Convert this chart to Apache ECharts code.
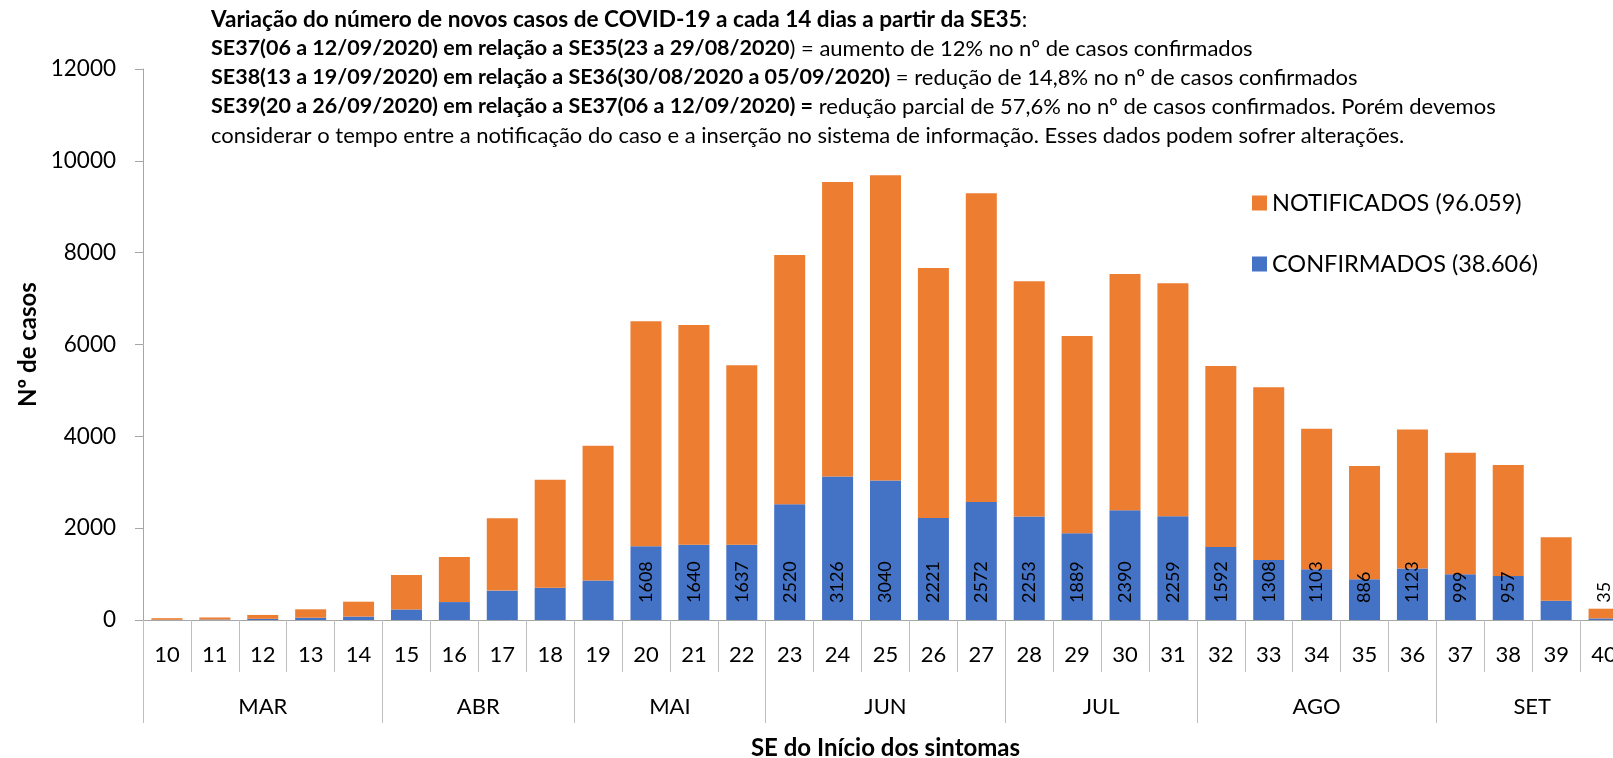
<!DOCTYPE html>
<html>
<head>
<meta charset="utf-8">
<script src="https://cdn.jsdelivr.net/npm/echarts@6/dist/echarts.min.js"></script>
<style>
html,body{margin:0;padding:0;background:#fff;overflow:hidden;}
#chart{width:1613px;height:758px;}
</style>
</head>
<body>
<div id="chart"></div>
<script>
// ---- data ----
const weeks = ['10','11','12','13','14','15','16','17','18','19','20','21','22','23','24','25','26','27','28','29','30','31','32','33','34','35','36','37','38','39','40'];
const months = ['MAR','ABR','MAI','JUN','JUL','AGO','SET'];
const monthWeekCounts = [5,4,4,5,4,5,4];
const confirmados = [5,10,25,50,75,230,390,640,700,860,1608,1640,1637,2520,3126,3040,2221,2572,2253,1889,2390,2259,1592,1308,1103,886,1123,999,957,420,35];
const notificados = [35,45,85,183,324,750,982,1575,2356,2935,4897,4784,3913,5429,6412,6644,5444,6720,5123,4296,5145,5073,3939,3762,3063,2468,3027,2644,2418,1381,211];
const labeledWeeks = ['20','21','22','23','24','25','26','27','28','29','30','31','32','33','34','35','36','37','38','40'];
const legendNames = ['NOTIFICADOS (96.059)','CONFIRMADOS (38.606)'];
const yTicks = {min:0, max:12000, interval:2000};
const titleLines = [
  [['h','Variação do número de novos casos de COVID-19 a cada 14 dias a partir da SE35'],['n',':']],
  [['b','SE37(06 a 12/09/2020) em relação a SE35(23 a 29/08/2020'],['n',') = aumento de 12% no nº de casos confirmados']],
  [['b','SE38(13 a 19/09/2020) em relação a SE36(30/08/2020 a 05/09/2020)'],['n',' = redução de 14,8% no nº de casos confirmados']],
  [['b','SE39(20 a 26/09/2020) em relação a SE37(06 a 12/09/2020) ='],['n',' redução parcial de 57,6% no nº de casos confirmados. Porém devemos']],
  [['n','considerar o tempo entre a notificação do caso e a inserção no sistema de informação. Esses dados podem sofrer alterações.']]
];
// --------------------------------------

const FONT = 'Lato';
const BLUE = '#4472C4', ORANGE = '#ED7D31';
const AXIS = '#A6A6A6', SEP = '#BFBFBF';

// month axis: points at half-week resolution
const nPts = weeks.length * 2 + 1;
const monthData = new Array(nPts).fill('');
const boundary = new Set();
let start = 0;
months.forEach((m, i) => {
  boundary.add(start * 2);
  monthData[start * 2 + monthWeekCounts[i]] = m;
  start += monthWeekCounts[i];
});
boundary.add(start * 2);

const smallThreshold = 500;
const blueData = confirmados.map((v, i) => ({
  value: v,
  label: {show: labeledWeeks.includes(weeks[i]) && v >= smallThreshold}
}));
const orangeData = notificados.map((v, i) => ({
  value: v,
  label: {show: labeledWeeks.includes(weeks[i]) && confirmados[i] < smallThreshold}
}));

const titleText = titleLines.map(line => line.map(([s, t]) => '{' + s + '|' + t + '}').join('')).join('\n');

const chart = echarts.init(document.getElementById('chart'));
chart.setOption({
  animation: false,
  textStyle: {fontFamily: FONT},
  title: {
    left: 206, top: 0,
    text: titleText,
    textStyle: {
      fontFamily: FONT, fontSize: 21.5, lineHeight: 29, color: '#000',
      rich: {
        h: {fontFamily: FONT, fontSize: 22.6, lineHeight: 29, fontWeight: 'bold', color: '#000'},
        b: {fontFamily: FONT, fontSize: 21.5, lineHeight: 29, fontWeight: 'bold', color: '#000'},
        n: {fontFamily: FONT, fontSize: 22, lineHeight: 29, fontWeight: 'normal', color: '#000'}
      }
    }
  },
  legend: {
    orient: 'vertical', left: 1247, top: 186,
    itemWidth: 15, itemHeight: 15, itemGap: 37, icon: 'rect',
    data: [legendNames[0], legendNames[1]],
    textStyle: {fontFamily: FONT, fontSize: 23.5, color: '#000'}
  },
  grid: {left: 143, top: 69, bottom: 138, right: -15, containLabel: false, outerBoundsMode: 'none'},
  xAxis: [{
    type: 'category', data: weeks, position: 'bottom',
    axisLine: {show: true, lineStyle: {color: AXIS, width: 1}},
    axisTick: {show: true, interval: 0, length: 52, lineStyle: {color: SEP}},
    axisLabel: {interval: 0, margin: 24, fontSize: 22, lineHeight: 22, color: '#000', fontFamily: FONT},
    name: 'SE do Início dos sintomas', nameLocation: 'middle', nameGap: 116,
    nameTextStyle: {fontFamily: FONT, fontSize: 24, fontWeight: 'bold', color: '#000', lineHeight: 24}
  }, {
    type: 'category', data: monthData, position: 'bottom', boundaryGap: false,
    axisLine: {show: false},
    axisTick: {show: true, length: 103, interval: (i) => boundary.has(i), lineStyle: {color: SEP}},
    axisLabel: {interval: 0, margin: 76, fontSize: 22, lineHeight: 22, color: '#000', fontFamily: FONT},
    splitLine: {show: false}
  }],
  yAxis: {
    type: 'value', min: yTicks.min, max: yTicks.max, interval: yTicks.interval,
    axisLine: {show: true, lineStyle: {color: AXIS}},
    axisTick: {show: true, length: 8, lineStyle: {color: AXIS}},
    axisLabel: {margin: 27, fontSize: 22.5, color: '#000', fontFamily: FONT, formatter: (v) => String(v)},
    splitLine: {show: false},
    name: 'Nº de casos', nameLocation: 'middle', nameGap: 89,
    nameTextStyle: {fontFamily: FONT, fontSize: 24, fontWeight: 'bold', color: '#000'}
  },
  series: [{
    name: legendNames[1], type: 'bar', stack: 'total', xAxisIndex: 0,
    data: blueData, barWidth: 31,
    itemStyle: {color: BLUE},
    label: {position: 'insideBottom', distance: 17, rotate: 90, align: 'left', verticalAlign: 'middle',
      fontSize: 18, color: '#000', fontFamily: FONT}
  }, {
    name: legendNames[0], type: 'bar', stack: 'total', xAxisIndex: 0,
    data: orangeData, barWidth: 31,
    itemStyle: {color: ORANGE},
    label: {position: 'top', distance: 6, rotate: 90, align: 'left', verticalAlign: 'middle',
      fontSize: 18, color: '#000', fontFamily: FONT,
      formatter: (p) => String(confirmados[p.dataIndex])}
  }]
});
</script>
</body>
</html>
